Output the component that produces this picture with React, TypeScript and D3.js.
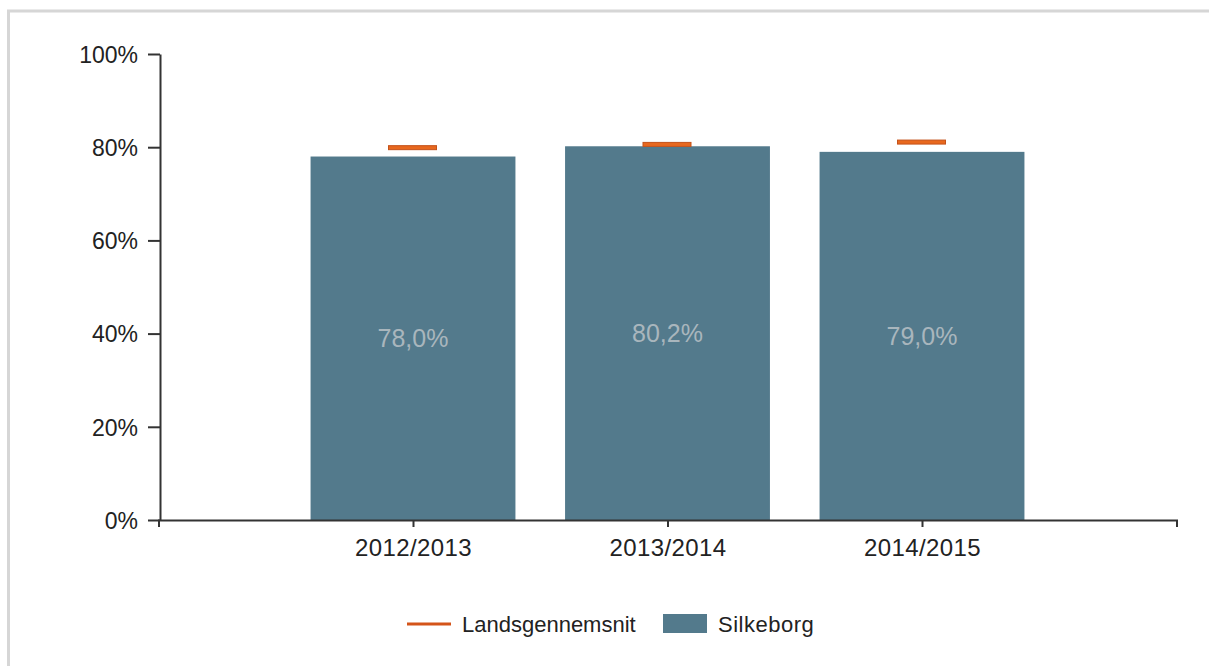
import React, { useEffect, useRef } from 'react';
import * as d3 from 'd3';

const years = ['2012/2013', '2013/2014', '2014/2015'];
const silkeborg = [78.0, 80.2, 79.0];
const landsgennemsnit = [79.9, 80.6, 81.1];
const yTicks = [0, 20, 40, 60, 80, 100];

const App = () => {
  const svgRef = useRef<SVGSVGElement>(null);

  useEffect(() => {
    const width = 1209;
    const height = 666;
    const left = 160, right = 1178, top = 54, bottom = 520;
    const font = '"Liberation Sans", Arial, sans-serif';
    const svg = d3.select(svgRef.current);
    svg.selectAll('*').remove();
    svg.attr('width', width).attr('height', height);

    // frame
    svg.append('rect')
      .attr('x', 8.5).attr('y', 11).attr('width', 1300).attr('height', 800)
      .attr('fill', 'none').attr('stroke', '#d6d6d6').attr('stroke-width', 3);

    const x = d3.scaleLinear().domain([0, 4]).range([left, right]);
    const y = d3.scaleLinear().domain([0, 100]).range([bottom, top]);
    const step = x(1) - x(0);
    const barW = step * 0.805;

    // bars
    svg.selectAll('rect.bar')
      .data(silkeborg)
      .enter()
      .append('rect')
      .attr('class', 'bar')
      .attr('x', (d, i) => x(i + 1) - barW / 2 - 1.5)
      .attr('y', d => y(d))
      .attr('width', barW)
      .attr('height', d => y(0) - y(d))
      .attr('fill', '#537a8c');

    svg.selectAll('text.val')
      .data(silkeborg)
      .enter()
      .append('text')
      .attr('class', 'val')
      .attr('x', (d, i) => x(i + 1) - 1.5)
      .attr('y', d => (y(d) + y(0)) / 2 + 9)
      .attr('text-anchor', 'middle')
      .style('font-family', font)
      .style('font-size', '25px')
      .attr('fill', '#a9b6bd')
      .text(d => d.toFixed(1).replace('.', ',') + '%');

    // national average markers
    svg.selectAll('rect.avg')
      .data(landsgennemsnit)
      .enter()
      .append('rect')
      .attr('class', 'avg')
      .attr('x', (d, i) => x(i + 1) - 26)
      .attr('y', d => y(d) - 2)
      .attr('width', 48)
      .attr('height', 4)
      .attr('fill', '#e8681e')
      .attr('stroke', '#c4521a')
      .attr('stroke-width', 1);

    // axes
    const xAxis = svg.append('g')
      .attr('transform', `translate(-1.5,${bottom})`)
      .call(d3.axisBottom(x).tickValues([1, 2, 3]).tickSize(7).tickSizeOuter(7).tickPadding(12)
        .tickFormat((d) => years[(d as number) - 1]));
    const yAxis = svg.append('g')
      .attr('transform', `translate(${left},0)`)
      .call(d3.axisLeft(y).tickValues(yTicks).tickSize(12).tickSizeOuter(0).tickPadding(10)
        .tickFormat(d => `${d}%`));

    [xAxis, yAxis].forEach(g => {
      g.select('.domain').attr('stroke', '#333').attr('stroke-width', 2);
      g.selectAll('.tick line').attr('stroke', '#333').attr('stroke-width', 2);
      g.selectAll('.tick text')
        .style('font-family', font)
        .style('font-size', '23px')
        .attr('fill', '#222');
    });
    xAxis.selectAll('.tick text').style('font-size', '24px').style('letter-spacing', '0.4px');
    yAxis.selectAll('.tick text').attr('dy', '0.36em');

    // legend
    const legend = svg.append('g');
    legend.append('line')
      .attr('x1', 407).attr('x2', 451).attr('y1', 624).attr('y2', 624)
      .attr('stroke', '#d4541a').attr('stroke-width', 3);
    legend.append('text')
      .attr('x', 462).attr('y', 632)
      .style('font-family', font).style('font-size', '22px').attr('fill', '#222')
      .text('Landsgennemsnit');
    legend.append('rect')
      .attr('x', 663).attr('y', 614).attr('width', 44).attr('height', 19)
      .attr('fill', '#537a8c');
    legend.append('text')
      .attr('x', 718).attr('y', 632)
      .style('font-family', font).style('font-size', '22px').style('letter-spacing', '0.5px').attr('fill', '#222')
      .text('Silkeborg');
  }, []);

  return (
    <div style={{ position: 'absolute', left: 0, top: 0 }}>
      <svg ref={svgRef}></svg>
    </div>
  );
};

export default App;
